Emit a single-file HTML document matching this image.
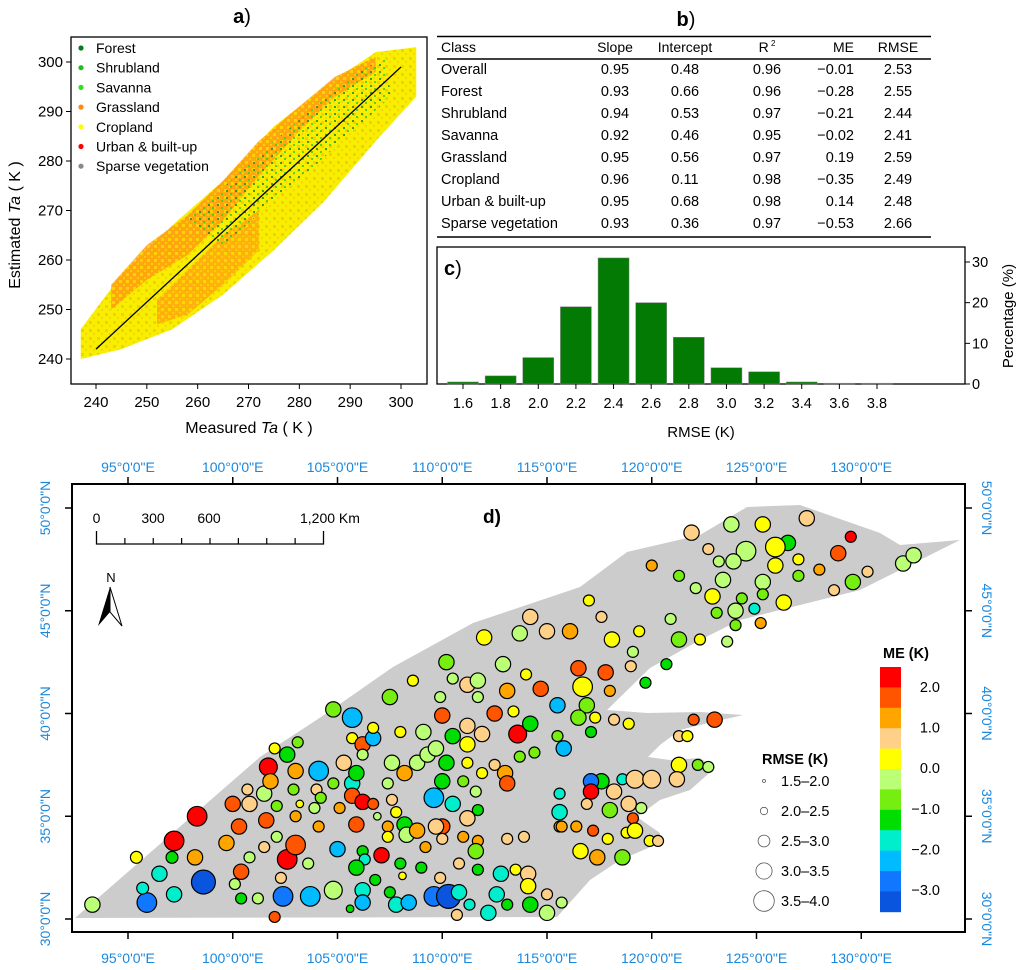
<!DOCTYPE html>
<html><head><meta charset="utf-8"><style>
html,body{margin:0;padding:0;background:#fff;}
svg{display:block;font-family:"Liberation Sans",Arial,sans-serif;}
</style></head><body>
<svg id="root" width="1024" height="970" viewBox="0 0 1024 970">
<defs>
<pattern id="yspeck" width="7" height="7" patternUnits="userSpaceOnUse">
<rect x="0" y="0" width="3" height="3" fill="#ffee00"/><rect x="4" y="4" width="2" height="2" fill="#ffdd00"/>
</pattern>
<pattern id="ospeck" width="8" height="8" patternUnits="userSpaceOnUse">
<rect x="1" y="1" width="3" height="3" fill="#ff9010"/><rect x="5" y="5" width="2" height="2" fill="#ffa020"/>
</pattern>
<pattern id="greenspeck" width="9" height="7" patternUnits="userSpaceOnUse">
<rect x="1" y="1" width="2" height="2" fill="#1a8a1a"/><rect x="5" y="4" width="2" height="2" fill="#33cc22"/>
</pattern>
</defs>
<g id="pa"></g>
<g id="pb"></g>
<g id="pc"></g>
<g id="pd"></g>
</svg>
<script>
// ---------- Panel a data ----------
const envX = [237,245,255,265,275,285,295,303];
const envUpper = [246,257,267,276,287,295,302,303];
const envLower = [240,242,246,253,262,272,284,293];
const orangeX = [243,250,258,265,272,280,287,295];
const orangeUpper = [255,263,269,276,284,291,297,301];
const orangeLower = [250,256,261,268,277,286,293,298];
const orange2X = [252,258,265,272];
const orange2Upper = [252,258,265,270];
const orange2Lower = [247,249,255,262];
const legendNames = ["Forest","Shrubland","Savanna","Grassland","Cropland","Urban & built-up","Sparse vegetation"];
const legendColors = ["#0a7a1a","#22bb22","#33dd22","#ff8c00","#ffff00","#ff0000","#888888"];
const xTicksA = [240,250,260,270,280,290,300];
const yTicksA = [240,250,260,270,280,290,300];
// ---------- Panel b data ----------
const tableHeader = ["Class","Slope","Intercept","R","ME","RMSE"];
const tableClass = ["Overall","Forest","Shrubland","Savanna","Grassland","Cropland","Urban & built-up","Sparse vegetation"];
const tableSlope = ["0.95","0.93","0.94","0.92","0.95","0.96","0.95","0.93"];
const tableIntercept = ["0.48","0.66","0.53","0.46","0.56","0.11","0.68","0.36"];
const tableR2 = ["0.96","0.96","0.97","0.95","0.97","0.98","0.98","0.97"];
const tableME = ["−0.01","−0.28","−0.21","−0.02","0.19","−0.35","0.14","−0.53"];
const tableRMSE = ["2.53","2.55","2.44","2.41","2.59","2.49","2.48","2.66"];
// ---------- Panel c data ----------
const histBins = [1.6,1.8,2.0,2.2,2.4,2.6,2.8,3.0,3.2,3.4,3.6,3.8];
const histPct = [0.5,2,6.5,19,31,20,11.5,4,3,0.5,0.2,0.2];
const histYTicks = [0,10,20,30];
// ---------- Panel d data ----------
const stLon = [93.3,95.9,95.4,96.5,95.7,97.2,97.1,97.2,98.2,98.3,98.6,99.7,100.0,100.3,100.4,100.8,100.7,101.5,101.7,101.8,102.0,100.8,100.1,100.4,101.2,102.0,101.6,102.1,102.1,101.5,102.3,102.6,103.0,102.4,103.7,103.6,103.0,102.9,103.0,102.6,103.1,103.2,103.9,104.1,104.1,104.0,104.2,104.8,104.8,105.0,105.1,104.8,105.3,105.7,105.7,106.2,106.7,106.7,105.7,105.9,106.2,105.7,106.2,106.7,105.9,106.2,106.3,105.9,106.2,106.2,105.6,106.8,107.1,106.9,107.5,107.6,107.4,107.6,107.8,107.4,107.4,108.2,108.0,108.1,107.5,107.8,108.4,108.0,108.6,109.1,108.8,109.3,109.7,108.2,108.3,108.8,109.2,109.0,109.6,109.6,110.3,109.9,110.8,110.7,111.3,110.0,109.9,110.2,110.5,111.2,111.7,111.7,112.0,112.9,113.7,114.2,115.0,116.1,114.0,113.1,112.5,113.4,113.6,114.2,114.7,115.5,111.2,111.9,110.5,111.2,110.2,110.0,111.2,111.9,112.5,113.0,113.1,113.7,114.4,115.8,115.5,111.0,111.6,110.5,111.7,111.2,110.0,109.7,110.0,111.0,111.7,111.6,110.8,111.7,112.8,113.5,114.1,114.1,112.6,112.2,113.1,114.2,115.0,115.0,113.1,113.9,115.6,115.6,115.6,
121.9,123.8,125.3,127.4,129.5,128.9,126.5,125.9,124.5,123.9,123.2,122.7,120.0,121.3,122.1,123.4,125.9,127.0,127.0,125.3,128.0,130.3,128.7,129.6,132.0,132.5,124.3,125.3,124.9,126.3,124.0,122.9,123.1,124.0,125.2,123.6,122.3,121.3,120.9,119.4,119.1,119.0,120.7,119.7,117.6,117.0,118.1,116.5,117.8,118.0,116.7,116.9,116.5,117.3,117.1,118.2,118.9,117.6,118.6,117.1,117.1,117.1,118.2,119.2,120.0,121.3,121.2,122.2,122.7,121.3,121.7,122.0,123.0,116.9,118.0,118.9,119.5,119.1,117.9,118.8,119.2,119.9,120.3,117.2,116.4,115.7,116.6,117.4,118.6,115.7];
const stLat = [30.7,30.8,33.0,32.2,31.5,31.2,33.0,33.8,33.0,35.0,31.8,33.7,35.6,34.5,32.3,35.6,36.3,36.1,37.4,36.7,38.3,33.0,31.7,31.0,31.0,30.1,34.8,35.5,34.0,33.5,32.0,32.9,33.6,31.1,31.1,32.7,35.0,36.3,37.2,38.0,38.6,35.6,35.4,34.5,37.2,36.3,35.9,36.6,31.4,33.4,35.4,40.2,37.6,39.8,38.8,38.5,38.8,39.3,36.6,37.1,38.0,36.0,35.7,35.6,34.6,33.3,32.9,32.5,31.4,30.8,30.5,31.9,33.1,35.0,40.8,37.6,36.6,35.8,35.2,34.5,34.0,37.1,32.7,32.1,31.3,30.7,30.8,39.1,41.6,39.1,37.6,38.0,38.3,34.6,34.1,34.3,33.5,32.5,35.9,31.1,31.1,32.0,31.3,30.2,30.7,39.9,40.8,42.5,41.7,41.4,41.6,40.8,43.7,42.4,43.9,44.7,44.0,44.0,41.9,41.1,40.0,40.1,39.0,39.5,41.2,40.4,39.4,39.0,38.9,38.5,37.6,36.7,37.6,37.1,37.5,37.1,36.6,37.9,38.1,38.3,38.9,36.7,36.2,35.6,35.3,34.9,34.5,34.5,33.9,34.0,33.8,33.3,32.7,32.4,32.2,32.4,32.2,31.6,31.2,30.3,30.7,30.7,30.3,31.2,33.9,34.0,36.1,35.2,34.5,
48.8,49.2,49.2,49.5,48.6,47.8,48.3,48.1,47.9,47.4,47.4,48.0,47.2,46.7,46.1,46.5,47.2,47.5,46.7,46.4,47.0,46.9,46.0,46.4,47.3,47.7,45.6,45.8,45.1,45.4,45.0,45.7,44.9,44.3,44.4,43.5,43.6,43.6,44.6,44.0,43.0,42.3,42.4,41.5,44.7,45.5,43.6,42.2,42.0,41.1,41.3,40.4,39.8,39.8,39.1,39.7,39.5,36.7,36.8,36.3,36.7,36.2,36.2,36.8,36.8,37.5,36.8,37.5,37.4,38.9,38.9,39.7,39.7,35.6,35.3,35.6,35.4,34.9,33.9,34.2,34.3,33.8,33.8,34.3,34.5,34.5,33.3,33.0,33.0,30.8];
const stME = [-0.2,-2.7,0.2,-1.7,-1.7,-1.7,-1.2,2.2,1.2,2.2,-3.2,1.2,1.7,1.7,1.7,0.7,0.7,-0.2,2.2,1.2,0.2,-0.2,-0.2,-1.2,-0.2,1.7,1.7,-0.7,-0.2,0.7,0.7,2.2,1.7,-2.7,-2.2,-0.2,1.2,-0.7,1.2,-1.2,-0.7,0.2,-0.2,1.2,-2.2,0.7,-0.7,-0.7,-0.2,-2.2,1.2,-0.7,0.7,-2.2,0.2,1.7,-2.2,0.2,-1.7,-1.2,-0.2,1.7,2.2,1.7,1.7,-1.2,-1.7,-1.2,-1.7,-2.2,-1.2,-1.2,2.2,-0.2,-0.7,-0.2,-0.2,0.7,0.2,1.2,0.2,1.2,-1.2,0.2,-1.2,-1.7,-2.2,0.2,0.2,-0.2,-0.2,-0.2,-0.2,-1.2,-0.2,1.2,1.2,-1.2,-2.2,-2.7,-3.2,0.7,-1.7,0.7,-1.7,1.7,-0.2,-0.7,-0.2,0.7,-0.2,-0.2,0.2,-0.2,-0.2,0.7,0.7,1.2,0.2,1.2,1.7,0.2,2.2,-1.2,1.7,-2.2,0.7,0.7,-1.2,0.2,-1.2,-1.2,0.2,0.2,0.7,1.2,1.7,-0.7,-0.7,-2.2,-0.7,-0.7,-0.2,-1.7,-1.2,0.7,1.7,0.7,0.7,1.2,1.2,-0.7,0.7,-1.2,-1.7,0.2,0.7,0.2,-1.7,-1.7,-1.2,-1.2,-0.2,0.7,0.7,0.7,-1.7,-1.7,1.2,
0.7,-0.2,0.2,0.7,2.2,1.7,-1.2,0.2,-0.2,-0.2,-0.2,0.7,1.2,-0.7,-0.2,-0.2,0.2,0.2,-0.7,-0.2,1.2,0.7,0.7,-0.7,-0.2,-0.2,-0.7,-0.7,-1.7,0.2,-0.2,0.2,-0.7,-0.7,1.2,-0.2,0.2,-0.7,-0.2,0.2,-0.2,0.7,-1.2,-1.2,0.7,0.2,0.2,1.7,1.7,1.2,0.2,-0.7,-0.7,0.2,-1.2,0.7,0.2,-1.2,-1.7,-1.2,-2.7,2.2,0.7,0.7,0.7,0.2,0.7,-0.7,-0.2,0.7,0.2,1.7,1.7,0.7,-0.7,0.7,-0.2,1.7,0.2,0.2,0.2,0.2,0.7,1.7,1.2,1.2,0.2,1.2,-0.7,-0.2];
const stRMSE = [2.7,3.2,2.3,2.7,2.3,2.7,2.3,3.2,2.7,3.2,3.7,2.7,2.7,2.7,2.7,2.7,2.2,2.7,3.0,2.7,2.2,2.2,2.2,2.2,2.2,2.2,2.7,2.2,2.2,2.2,2.2,3.2,3.2,3.2,3.2,2.2,2.2,2.2,2.7,2.7,2.2,1.8,2.2,2.2,3.2,2.2,2.2,2.2,3.0,2.7,2.2,2.7,2.7,3.2,2.2,2.7,2.7,2.2,2.7,2.7,2.2,2.7,2.7,2.2,2.7,2.2,2.2,2.7,2.7,2.7,1.8,2.2,2.7,1.8,2.7,2.7,2.2,2.2,2.2,2.2,2.2,2.7,2.2,1.8,2.2,2.7,2.7,2.2,2.2,2.7,2.7,2.7,2.7,2.7,2.7,2.7,2.2,2.2,3.2,3.2,3.7,2.2,2.7,2.2,2.2,2.7,2.2,2.7,2.2,2.7,2.7,2.2,2.7,2.7,2.7,2.7,2.7,2.7,2.2,2.7,2.7,2.2,3.0,2.7,2.7,2.7,2.7,2.7,2.7,2.7,2.7,2.7,2.2,2.2,2.2,2.7,2.7,2.2,2.2,2.7,2.2,2.2,2.2,2.7,2.2,2.7,2.7,2.7,2.2,2.2,2.2,2.7,2.2,2.2,2.7,2.2,2.7,2.7,2.7,2.7,2.2,2.7,2.7,2.2,2.2,2.2,2.2,2.7,2.2,2.7,2.7,2.7,
2.7,2.2,2.7,2.7,3.2,3.2,2.7,2.2,2.2,2.2,2.2,2.2,2.7,2.7,2.2,2.2,2.7,2.2,2.2,2.2,2.7,2.7,2.7,2.2,2.2,2.2,2.7,2.7,2.7,2.2,2.2,2.2,2.2,2.2,2.7,2.2,2.2,2.2,2.2,2.2,2.2,2.2,2.2,2.7,2.7,2.7,2.2,3.2,2.7,2.7,2.2,2.2,2.2,2.2,2.7,2.2,2.2,2.7,2.7,2.7,3.0,3.0,2.7,2.7,2.2,2.2,2.2,2.2,2.2,2.7,2.2,2.7,2.7,2.2,2.2,2.2,2.2,2.7,2.2,2.2,2.2,2.2,2.2,2.7,2.7,2.7,2.2,2.2,2.2,2.2];
const meBreaks = [-3.0,-2.5,-2.0,-1.5,-1.0,-0.5,0,0.5,1.0,1.5,2.0];
const meColors = ["#0a55dd","#1177ff","#00bbff","#00eecc","#00dd00","#77ee11","#bbff77","#ffff00","#ffd088","#ffa500","#ff5500","#ff0000"];
const meLabels = ["2.0","1.0","0.0","−1.0","−2.0","−3.0"];
const rmseClasses = ["1.5–2.0","2.0–2.5","2.5–3.0","3.0–3.5","3.5–4.0"];
const lonTicks = [95,100,105,110,115,120,125,130];
const latTicks = [30,35,40,45,50];
const scaleKm = ["0","300","600","1,200 Km"];

const NS="http://www.w3.org/2000/svg";
function el(parent, tag, attrs, text){const e=document.createElementNS(NS,tag);for(const k in attrs)e.setAttribute(k,attrs[k]);if(text!==undefined)e.textContent=text;parent.appendChild(e);return e;}

// ================= Panel a =================
const pa=document.getElementById('pa');
const ax=v=>96+(v-240)*(401-96)/60;
const ay=v=>359-(v-240)*(359-62)/60;
function band(xs,up,lo){return xs.map((x,i)=>ax(x)+','+ay(up[i])).concat(xs.map((x,i)=>ax(xs[xs.length-1-i])+','+ay(lo[xs.length-1-i]))).join(' ');}
let r=el(pa,'rect',{x:71,y:37,width:356,height:347,fill:'#fff',stroke:'#000','stroke-width':1.3});

let p=el(pa,'polygon',{points:band(envX,envUpper,envLower),fill:'#f7ee00'});

p=el(pa,'polygon',{points:band(envX,envUpper,envLower),fill:'url(#ospeck)',opacity:0.35});

p=el(pa,'polygon',{points:band(orangeX,orangeUpper,orangeLower),fill:'#ff9a10',opacity:0.85});

p=el(pa,'polygon',{points:band(orangeX,orangeUpper,orangeLower),fill:'url(#yspeck)',opacity:0.6});

p=el(pa,'polygon',{points:band(orange2X,orange2Upper,orange2Lower),fill:'#ff9a10',opacity:0.7});

p=el(pa,'polygon',{points:band(orange2X,orange2Upper,orange2Lower),fill:'url(#yspeck)',opacity:0.6});

const pts=[[258,268],[275,284],[290,297],[297,301],[298,293],[283,279],[265,263]].map(d=>ax(d[0])+','+ay(d[1]));
p=el(pa,'polygon',{points:pts.join(' '),fill:'url(#greenspeck)',opacity:0.8});

let l=el(pa,'line',{x1:ax(240),y1:ay(242),x2:ax(300),y2:ay(299),stroke:'#000','stroke-width':1.3});

xTicksA.forEach(v=>{el(pa,'line',{x1:ax(v),y1:384,x2:ax(v),y2:389,stroke:'#000'});
 const t=el(pa,'text',{x:ax(v),y:407,'font-size':15,'text-anchor':'middle'},String(v));
 });
yTicksA.forEach(v=>{el(pa,'line',{x1:66,y1:ay(v),x2:71,y2:ay(v),stroke:'#000'});
 const t=el(pa,'text',{x:63,y:ay(v)+5,'font-size':15,'text-anchor':'end'},String(v));
 });
let t=el(pa,'text',{x:249,y:433,'font-size':16,'text-anchor':'middle'});
t.innerHTML='Measured <tspan font-style="italic">Ta</tspan> ( K )';

t=el(pa,'text',{x:0,y:0,'font-size':16,'text-anchor':'middle',transform:'translate(20,225) rotate(-90)'});
t.innerHTML='Estimated <tspan font-style="italic">Ta</tspan> ( K )';

t=el(pa,'text',{x:242,y:23,'font-size':20,'font-weight':'bold','text-anchor':'middle'});
t.innerHTML='a<tspan font-weight="normal">)</tspan>';

legendNames.forEach((n,i)=>{const y=48+i*19.7;
 const c=el(pa,'circle',{cx:81,cy:y,r:2.6,fill:legendColors[i]});
 
 const tt=el(pa,'text',{x:96,y:y+5,'font-size':14},n);
 });

// ================= Panel b =================
const pb=document.getElementById('pb');
t=el(pb,'text',{x:686,y:26,'font-size':20,'font-weight':'bold','text-anchor':'middle'});
t.innerHTML='b<tspan font-weight="normal">)</tspan>';

el(pb,'line',{x1:437,y1:36.5,x2:931,y2:36.5,stroke:'#000','stroke-width':1.5});
el(pb,'line',{x1:437,y1:59,x2:931,y2:59,stroke:'#000','stroke-width':1.5});
el(pb,'line',{x1:437,y1:237,x2:931,y2:237,stroke:'#000','stroke-width':1.5});
const colX=[441,615,685,767,854,898];
const colAnchor=['start','middle','middle','middle','end','middle'];
tableHeader.forEach((h,i)=>{const tt=el(pb,'text',{x:colX[i],y:52,'font-size':14,'text-anchor':colAnchor[i]});
 if(h==='R'){tt.innerHTML='R<tspan font-size="8" dy="-6"> 2</tspan>';}else tt.textContent=h;
 });
const cols=[tableClass,tableSlope,tableIntercept,tableR2,tableME,tableRMSE];
tableClass.forEach((c,ri)=>{const y=74+ri*22;cols.forEach((col,ci)=>{
 const tt=el(pb,'text',{x:colX[ci],y:y,'font-size':14.5,'text-anchor':colAnchor[ci]},col[ri]);
 });});

// ================= Panel c =================
const pc=document.getElementById('pc');
const cx=v=>463+(v-1.6)*(877-463)/2.2;
const cy=v=>384-v*(384-262)/30;
r=el(pc,'rect',{x:437,y:247,width:528,height:137,fill:'#fff',stroke:'#000','stroke-width':1.3});

histBins.forEach((b,i)=>{const h=cy(0)-cy(histPct[i]);
 const rr=el(pc,'rect',{x:cx(b)-15.5,y:cy(histPct[i]),width:31,height:Math.max(h,0.8),fill:'#037a03',stroke:'#888','stroke-width':0.5});
 
 el(pc,'line',{x1:cx(b),y1:384,x2:cx(b),y2:389,stroke:'#000'});
 const tt=el(pc,'text',{x:cx(b),y:408,'font-size':14.5,'text-anchor':'middle'},b.toFixed(1));
 });
histYTicks.forEach(v=>{el(pc,'line',{x1:965,y1:cy(v),x2:970,y2:cy(v),stroke:'#000'});
 const tt=el(pc,'text',{x:972,y:cy(v)+5,'font-size':14.5},String(v));
 });
t=el(pc,'text',{x:701,y:437,'font-size':15,'text-anchor':'middle'},'RMSE (K)');

t=el(pc,'text',{x:0,y:0,'font-size':15,'text-anchor':'middle',transform:'translate(1013,316) rotate(-90)'},'Percentage (%)');

t=el(pc,'text',{x:444,y:275,'font-size':20,'font-weight':'bold'});
t.innerHTML='c<tspan font-weight="normal">)</tspan>';


// ================= Panel d =================
const pd=document.getElementById('pd');
const mx=v=>128+(v-95)*20.95;
const my=v=>919-(v-30)*20.55;
r=el(pd,'rect',{x:72,y:484,width:893,height:448,fill:'#fff',stroke:'#000','stroke-width':2});

const landPts="75,918 260,757 327,713 393,667 473,623 580,587 627,552 700,535 747,507 800,505 863,527 880,533 900,545 960,540 900,570 860,590 800,605 740,620 700,640 650,668 607,710 647,713 700,712 743,715 700,725 680,730 660,745 648,757 670,760 700,758 715,768 690,790 660,800 637,817 660,833 660,843 620,860 590,880 557,917";
let land=el(pd,'polygon',{points:landPts,fill:'#cccccc'});

function meColor(v){let i=0;while(i<meBreaks.length&&v>=meBreaks[i])i++;return meColors[i];}
const rad=v=>2.5+(v-1.5)*4.3;
stLon.forEach((lo,i)=>{const c=el(pd,'circle',{cx:mx(lo),cy:my(stLat[i]),r:rad(stRMSE[i]),fill:meColor(stME[i]),stroke:'#000','stroke-width':1.2});
 
 });
lonTicks.forEach(v=>{const x=mx(v);
 el(pd,'line',{x1:x,y1:477,x2:x,y2:484,stroke:'#000','stroke-width':1.5});
 el(pd,'line',{x1:x,y1:932,x2:x,y2:939,stroke:'#000','stroke-width':1.5});
 let tt=el(pd,'text',{x:x,y:472,'font-size':14,fill:'#1a88dd','text-anchor':'middle'},v+'°0\'0"E');
 
 tt=el(pd,'text',{x:x,y:963,'font-size':14,fill:'#1a88dd','text-anchor':'middle'},v+'°0\'0"E');
 });
latTicks.forEach(v=>{const y=my(v);
 el(pd,'line',{x1:65,y1:y,x2:72,y2:y,stroke:'#000','stroke-width':1.5});
 el(pd,'line',{x1:965,y1:y,x2:972,y2:y,stroke:'#000','stroke-width':1.5});
 let tt=el(pd,'text',{x:0,y:0,'font-size':14,fill:'#1a88dd','text-anchor':'middle',transform:'translate(50,'+y+') rotate(-90)'},v+'°0\'0"N');
 
 tt=el(pd,'text',{x:0,y:0,'font-size':14,fill:'#1a88dd','text-anchor':'middle',transform:'translate(982,'+y+') rotate(90)'},v+'°0\'0"N');
 });
t=el(pd,'text',{x:492,y:523,'font-size':19,'font-weight':'bold','text-anchor':'middle'},'d)');

const sb=el(pd,'g',{});

el(sb,'path',{d:'M96.5,531 V544 H323.5 V531',fill:'none',stroke:'#000','stroke-width':1.3});
for(let k=1;k<8;k++){const x=96.5+k*227/8;el(sb,'line',{x1:x,y1:538,x2:x,y2:544,stroke:'#000','stroke-width':1.2});}
[[96.5,'middle'],[153,'middle'],[209,'middle'],[300,'start']].forEach((d,i)=>{el(sb,'text',{x:d[0],y:523,'font-size':14,'text-anchor':d[1]},scaleKm[i]);});
const na=el(pd,'g',{});

el(na,'text',{x:111,y:582,'font-size':13,'text-anchor':'middle'},'N');
el(na,'polygon',{points:'110,587 98,626 110,612',fill:'#000'});
el(na,'polygon',{points:'110,587 122,626 110,612',fill:'#fff',stroke:'#000','stroke-width':1});
t=el(pd,'text',{x:906,y:658,'font-size':14.5,'font-weight':'bold','text-anchor':'middle'},'ME (K)');

meColors.slice().reverse().forEach((c,i)=>{const rr=el(pd,'rect',{x:880,y:667+i*20.4,width:21,height:20.8,fill:c});
 });
meLabels.forEach((s,i)=>{const tt=el(pd,'text',{x:940,y:692+i*40.6,'font-size':14.5,'text-anchor':'end'},s);
 });
t=el(pd,'text',{x:762,y:764,'font-size':14.5,'font-weight':'bold'},'RMSE (K)');

rmseClasses.forEach((s,i)=>{const y=781+i*30;
 const c=el(pd,'circle',{cx:764,cy:y,r:1.5+i*2.2,fill:'#fff',stroke:'#555','stroke-width':0.8});
 
 const tt=el(pd,'text',{x:781,y:y+5,'font-size':14.5},s);
 });
</script>
</body></html>
